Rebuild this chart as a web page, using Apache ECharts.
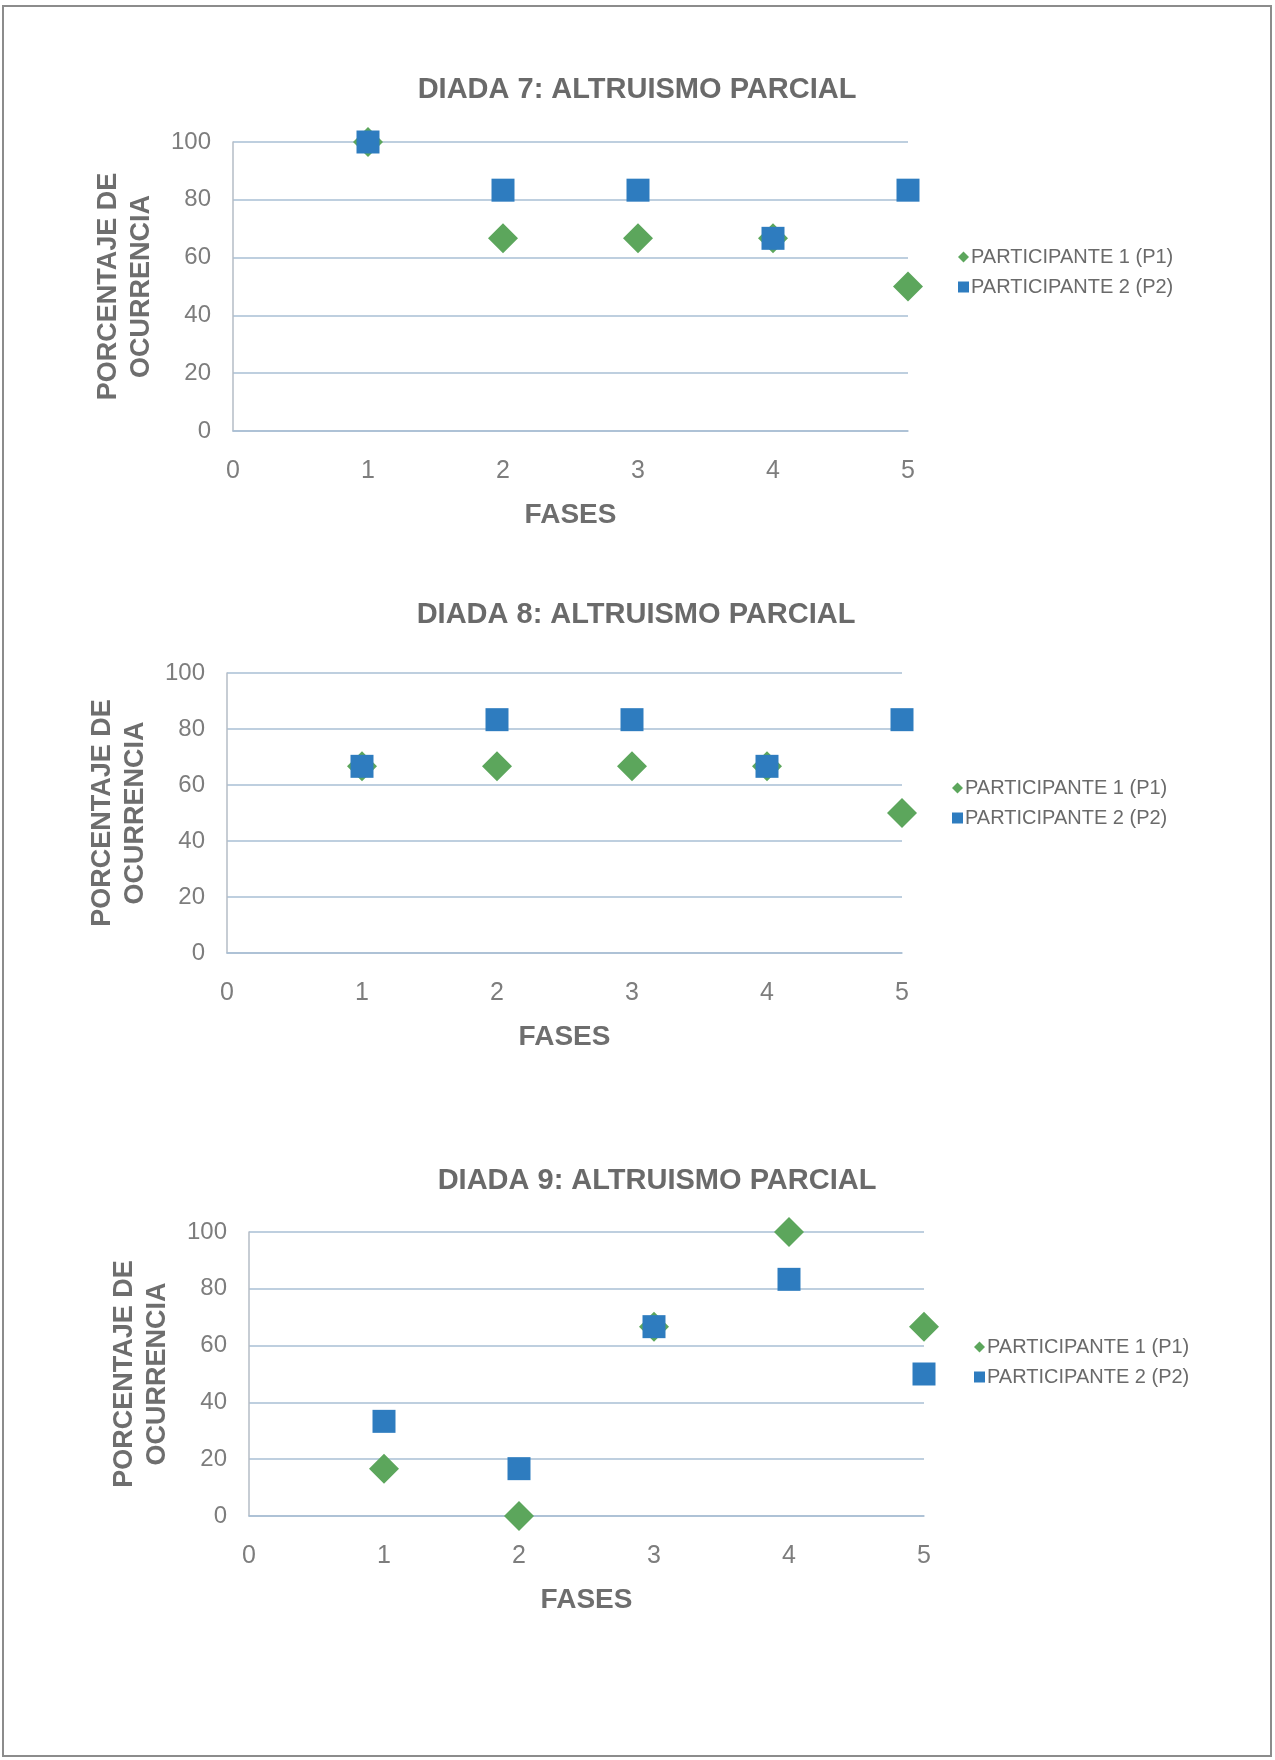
<!DOCTYPE html>
<html>
<head>
<meta charset="utf-8">
<script src="https://cdn.jsdelivr.net/npm/echarts@6/dist/echarts.min.js"></script>
<style>
  html, body { margin: 0; padding: 0; background: #ffffff; }
  #chart { width: 1275px; height: 1760px; }
</style>
</head>
<body>
<div id="chart"></div>
<script>
// Phases on the horizontal axis and the two participants' percentages
const fases = [1, 2, 3, 4, 5];
const seriesNames = ['PARTICIPANTE 1 (P1)', 'PARTICIPANTE 2 (P2)'];
const titles = [
  'DIADA 7: ALTRUISMO PARCIAL',
  'DIADA 8: ALTRUISMO PARCIAL',
  'DIADA 9: ALTRUISMO PARCIAL'
];
const yTicks = [0, 20, 40, 60, 80, 100];
const xTicks = [0, 1, 2, 3, 4, 5];

const diada7P1 = [100, 66.67, 66.67, 66.67, 50];
const diada7P2 = [100, 83.33, 83.33, 66.67, 83.33];
const diada8P1 = [66.67, 66.67, 66.67, 66.67, 50];
const diada8P2 = [66.67, 83.33, 83.33, 66.67, 83.33];
const diada9P1 = [16.67, 0, 66.67, 100, 66.67];
const diada9P2 = [33.33, 16.67, 66.67, 83.33, 50];

const panels = [
  { p1: diada7P1, p2: diada7P2, grid: { left: 233, top: 142, width: 675, height: 289 }, titleX: 637, titleY: 90 },
  { p1: diada8P1, p2: diada8P2, grid: { left: 227, top: 673, width: 675, height: 280 }, titleX: 636, titleY: 615 },
  { p1: diada9P1, p2: diada9P2, grid: { left: 249, top: 1232, width: 675, height: 284 }, titleX: 657, titleY: 1181 }
];

const GREEN = '#5ca65c';
const BLUE = '#2e7cbf';
const GRID_LINE = '#a9bfd4';
const TEXT = '#7d7d7d';
const FONT = '"Liberation Sans", Arial, sans-serif';

const pairs = vals => fases.map((f, i) => [f, vals[i]]);

const option = {
  backgroundColor: '#ffffff',
  animation: false,
  grid: [],
  xAxis: [],
  yAxis: [],
  legend: [],
  series: [],
  graphic: [
    {
      type: 'rect',
      shape: { x: 3, y: 6, width: 1268, height: 1750 },
      style: { fill: 'none', stroke: '#8c8c8c', lineWidth: 2 },
      silent: true
    }
  ]
};

panels.forEach((p, k) => {
  const g = p.grid;
  option.grid.push(Object.assign({ containLabel: false }, g));

  option.xAxis.push({
    type: 'value', gridIndex: k, min: xTicks[0], max: xTicks[xTicks.length - 1], interval: 1,
    name: 'FASES', nameLocation: 'middle', nameGap: 70,
    nameTextStyle: { fontFamily: FONT, fontWeight: 'bold', fontSize: 28, color: '#6e6e6e' },
    axisLine: { show: true, lineStyle: { color: GRID_LINE, width: 1.5 } },
    axisTick: { show: false },
    splitLine: { show: false },
    axisLabel: { fontFamily: FONT, fontSize: 25, color: TEXT, margin: 28 }
  });

  option.yAxis.push({
    type: 'value', gridIndex: k, min: yTicks[0], max: yTicks[yTicks.length - 1], interval: 20,
    name: 'PORCENTAJE DE\nOCURRENCIA', nameLocation: 'middle', nameGap: 75, nameRotate: 90,
    nameTextStyle: { fontFamily: FONT, fontWeight: 'bold', fontSize: 27, lineHeight: 33, color: '#6e6e6e', align: 'center' },
    axisLine: { show: true, lineStyle: { color: '#b4bcc6', width: 1.5 } },
    axisTick: { show: false },
    splitLine: { show: true, lineStyle: { color: GRID_LINE, width: 1.5 } },
    axisLabel: { fontFamily: FONT, fontSize: 24, color: TEXT, margin: 22 }
  });

  option.legend.push({
    orient: 'vertical',
    left: g.left + 720,
    top: g.top + 100,
    itemWidth: 11, itemHeight: 11, itemGap: 10,
    selectedMode: false,
    textStyle: { fontFamily: FONT, fontSize: 20, color: '#6a6a6a', padding: [0, 0, 0, -3] },
    data: [
      { name: seriesNames[0], icon: 'diamond', itemStyle: { color: GREEN } },
      { name: seriesNames[1], icon: 'rect', itemStyle: { color: BLUE } }
    ]
  });

  option.graphic.push({
    type: 'text',
    x: p.titleX, y: p.titleY,
    style: {
      text: titles[k],
      font: 'bold 29px ' + FONT,
      fill: '#6a6a6a',
      align: 'center', verticalAlign: 'middle'
    },
    silent: true
  });

  option.series.push({
    name: seriesNames[0], type: 'scatter', xAxisIndex: k, yAxisIndex: k,
    symbol: 'diamond', symbolSize: 30, z: 2,
    itemStyle: { color: GREEN, opacity: 1 },
    data: pairs(p.p1)
  });
  option.series.push({
    name: seriesNames[1], type: 'scatter', xAxisIndex: k, yAxisIndex: k,
    symbol: 'rect', symbolSize: 23, z: 3,
    itemStyle: { color: BLUE, opacity: 1 },
    data: pairs(p.p2)
  });
});

const chart = echarts.init(document.getElementById('chart'), null, { renderer: 'canvas' });
chart.setOption(option);
</script>
</body>
</html>
